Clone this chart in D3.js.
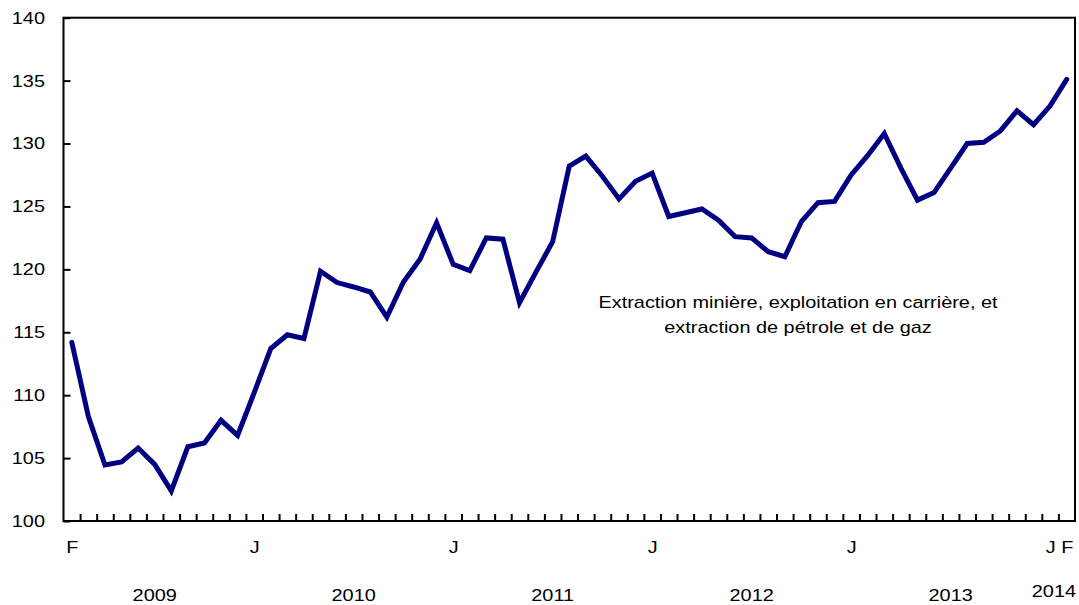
<!DOCTYPE html>
<html>
<head>
<meta charset="utf-8">
<script src="https://cdn.jsdelivr.net/npm/d3@7"></script>
<style>
  html, body { margin: 0; padding: 0; background: #fff; }
  svg { display: block; }
  text { font-family: "Liberation Sans", Arial, Helvetica, sans-serif; fill: #000; }
</style>
</head>
<body>
<svg id="chart" width="1079" height="605"></svg>
<script>
// ---- data ----
const months = [
  "2009-02","2009-03","2009-04","2009-05","2009-06","2009-07","2009-08","2009-09","2009-10","2009-11","2009-12",
  "2010-01","2010-02","2010-03","2010-04","2010-05","2010-06","2010-07","2010-08","2010-09","2010-10","2010-11","2010-12",
  "2011-01","2011-02","2011-03","2011-04","2011-05","2011-06","2011-07","2011-08","2011-09","2011-10","2011-11","2011-12",
  "2012-01","2012-02","2012-03","2012-04","2012-05","2012-06","2012-07","2012-08","2012-09","2012-10","2012-11","2012-12",
  "2013-01","2013-02","2013-03","2013-04","2013-05","2013-06","2013-07","2013-08","2013-09","2013-10","2013-11","2013-12",
  "2014-01","2014-02"
];
const values = [
  114.2,108.3,104.45,104.7,105.8,104.5,102.4,105.9,106.2,108.0,106.8,
  110.2,113.7,114.8,114.5,119.85,118.95,118.6,118.2,116.2,119.0,120.8,123.7,
  120.4,119.9,122.5,122.4,117.35,119.8,122.2,128.2,129.0,127.4,125.6,127.0,
  127.65,124.2,124.5,124.8,123.9,122.6,122.5,121.4,121.0,123.8,125.3,125.4,
  127.5,129.05,130.8,128.05,125.5,126.1,128.05,130.0,130.1,131.0,132.6,131.5,
  133.0,135.1
];
const monthTickMonths = ["2009-02","2010-01","2011-01","2012-01","2013-01","2014-01","2014-02"];
const monthTickLabels = ["F","J","J","J","J","J","F"];
const yearMonths = ["2009-07","2010-07","2011-07","2012-07","2013-07","2014-02"];
const yearLabels = ["2009","2010","2011","2012","2013","2014"];
const yTicks = [100,105,110,115,120,125,130,135,140];
const seriesLabel = ["Extraction minière, exploitation en carrière, et", "extraction de pétrole et de gaz"];

// ---- layout ----
const plotLeft = 63.5, plotRight = 1075, plotTop = 17.7, plotBottom = 521;
const FS = 17, SX = 1.17;
const svg = d3.select("#chart");

const x = d3.scaleLinear().domain([-0.5, months.length - 0.5]).range([plotLeft, plotRight]);
const y = d3.scaleLinear().domain([100, 140]).range([plotBottom, plotTop]);
const idx = m => months.indexOf(m);

// frame
svg.append("rect")
  .attr("x", plotLeft).attr("y", plotTop)
  .attr("width", plotRight - plotLeft).attr("height", plotBottom - plotTop)
  .attr("fill", "none").attr("stroke", "#000").attr("stroke-width", 2);

// y axis ticks (inward) + labels
const yPad = 18.5;
const yAxis = d3.axisLeft(y).tickValues(yTicks).tickSize(-7).tickPadding(yPad).tickFormat(d3.format("d"));
const gy = svg.append("g").attr("transform", `translate(${plotLeft},0)`).call(yAxis);
gy.select(".domain").remove();
gy.selectAll(".tick line").attr("stroke", "#000").attr("stroke-width", 2);
gy.selectAll(".tick text")
  .attr("font-size", FS).attr("font-family", "Liberation Sans, Arial, sans-serif").attr("fill", "#000")
  .attr("x", -yPad / SX).attr("transform", `scale(${SX},1)`);

// x tick marks at month boundaries (inward)
const boundaries = months.slice(1).map((m, i) => i + 0.5);
const xTickAxis = d3.axisBottom(x).tickValues(boundaries).tickSize(-7).tickFormat("");
const gxt = svg.append("g").attr("transform", `translate(0,${plotBottom})`).call(xTickAxis);
gxt.select(".domain").remove();
gxt.selectAll(".tick line").attr("stroke", "#000").attr("stroke-width", 2);

// month labels
const xLabAxis = d3.axisBottom(x).tickValues(monthTickMonths.map(idx)).tickSize(0).tickPadding(20)
  .tickFormat((d, i) => monthTickLabels[i]);
const gxl = svg.append("g").attr("transform", `translate(0,${plotBottom})`).call(xLabAxis);
gxl.select(".domain").remove();
gxl.selectAll(".tick text")
  .attr("font-size", FS).attr("font-family", "Liberation Sans, Arial, sans-serif").attr("fill", "#000")
  .attr("transform", `scale(${SX},1)`);

// year labels
const last = yearLabels.length - 1;
svg.append("g").selectAll("text").data(yearLabels).join("text")
  .attr("transform", (d, i) => {
    const px = i === last ? plotRight + 1 : x(idx(yearMonths[i]));
    const py = i === last ? 597 : 601;
    return `translate(${px},${py}) scale(${SX},1)`;
  })
  .attr("text-anchor", (d, i) => i === last ? "end" : "middle")
  .attr("font-size", FS)
  .text(d => d);

// line
const line = d3.line().x((d, i) => x(i)).y(d => y(d));
svg.append("path").datum(values)
  .attr("d", line)
  .attr("fill", "none")
  .attr("stroke", "#000080")
  .attr("stroke-width", 5)
  .attr("stroke-linejoin", "miter")
  .attr("stroke-linecap", "round");

// series label
seriesLabel.forEach((t, i) => {
  svg.append("text")
    .attr("transform", `translate(798,${308 + i * 25}) scale(${SX},1)`)
    .attr("text-anchor", "middle").attr("font-size", FS)
    .text(t);
});
</script>
</body>
</html>
